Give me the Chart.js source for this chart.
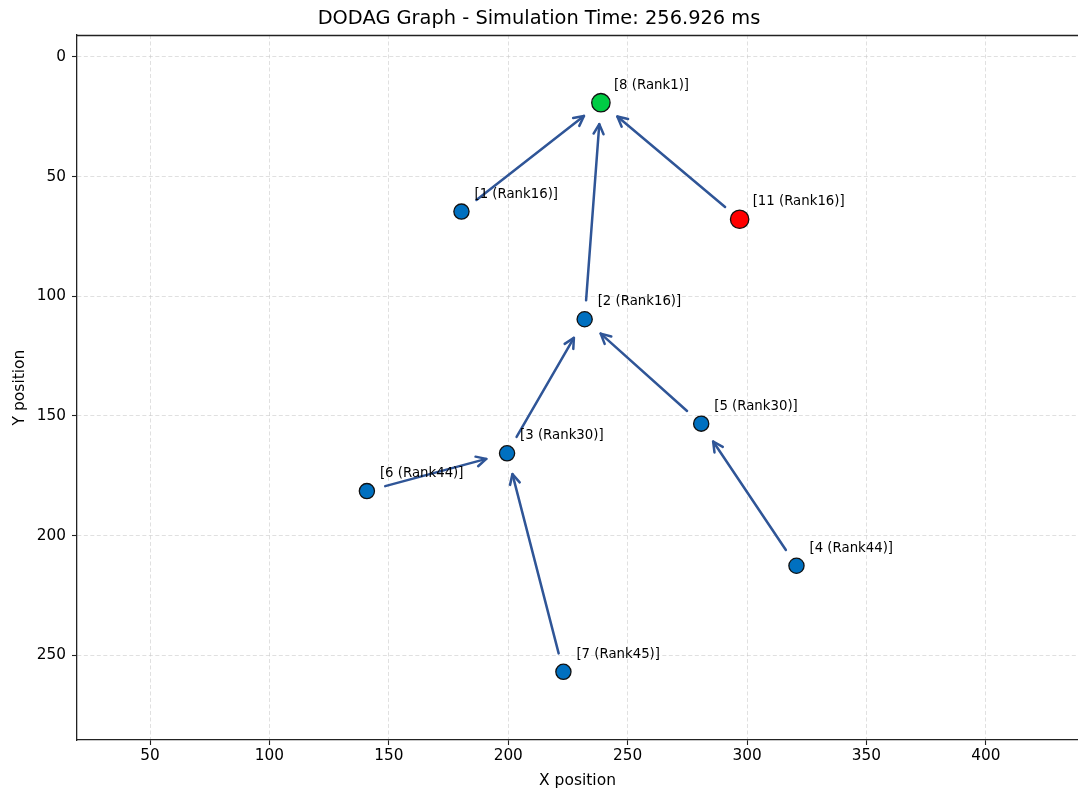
<!DOCTYPE html>
<html>
<head>
<meta charset="utf-8">
<title>DODAG Graph</title>
<script src="https://cdn.jsdelivr.net/npm/chart.js@4.4.1/dist/chart.umd.min.js"></script>
<style>
  html, body { margin: 0; padding: 0; background: #ffffff; }
  #wrap { width: 1078px; height: 794px; }
</style>
</head>
<body>
<div id="wrap"><canvas id="dodag" width="1078" height="794"></canvas></div>
<script>
// Node table: id, position, rank and preferred parent (null = DODAG root)
const nodeIds   = [8, 1, 11, 2, 5, 3, 6, 4, 7];
const nodeX     = [238.8, 180.4, 296.9, 232.0, 280.8, 199.5, 140.8, 320.7, 223.1];
const nodeY     = [19.1, 64.6, 67.8, 109.6, 153.2, 165.6, 181.4, 212.6, 256.9];
const nodeRank  = [1, 16, 16, 16, 30, 30, 44, 44, 45];
const nodeParent = [null, 8, 8, 8, 2, 2, 3, 5, 3];

// Highlighted nodes
const rootId = 8;
const markedId = 11;

// Axis ticks
const xTicks = [50, 100, 150, 200, 250, 300, 350, 400];
const yTicks = [0, 50, 100, 150, 200, 250];

const simTime = 256.926;

const FONT = "'DejaVu Sans', 'Liberation Sans', sans-serif";
const EDGE_COLOR = '#2f5597';

function fillFor(id) {
  if (id === rootId) return '#00cc44';
  if (id === markedId) return '#ff0000';
  return '#0070c0';
}
function radiusFor(id) {
  return (id === rootId || id === markedId) ? 9.2 : 7.6;
}

const points = nodeIds.map((id, i) => ({ x: nodeX[i], y: nodeY[i], id: id, rank: nodeRank[i] }));

// Parent links, arrows drawn beneath the nodes
const edgePlugin = {
  id: 'dodagEdges',
  beforeDatasetsDraw(chart) {
    const ctx = chart.ctx;
    const xs = chart.scales.x, ys = chart.scales.y;
    const area = chart.chartArea;
    ctx.save();
    ctx.beginPath();
    ctx.rect(area.left, area.top, area.right - area.left, area.bottom - area.top);
    ctx.clip();
    ctx.strokeStyle = EDGE_COLOR;
    ctx.lineWidth = 2.5;
    ctx.lineCap = 'round';
    ctx.lineJoin = 'round';
    nodeIds.forEach((id, i) => {
      const p = nodeParent[i];
      if (p === null) return;
      const j = nodeIds.indexOf(p);
      const x0 = xs.getPixelForValue(nodeX[i]), y0 = ys.getPixelForValue(nodeY[i]);
      const x1 = xs.getPixelForValue(nodeX[j]), y1 = ys.getPixelForValue(nodeY[j]);
      const dx = x1 - x0, dy = y1 - y0;
      const len = Math.hypot(dx, dy);
      const ux = dx / len, uy = dy / len;
      const sA = 19, sB = 21.5;
      const ax = x0 + ux * sA, ay = y0 + uy * sA;
      const bx = x1 - ux * sB, by = y1 - uy * sB;
      ctx.beginPath();
      ctx.moveTo(ax, ay);
      ctx.lineTo(bx, by);
      ctx.stroke();
      const hl = 11, ang = Math.atan2(uy, ux), spread = 0.47;
      ctx.beginPath();
      ctx.moveTo(bx - hl * Math.cos(ang - spread), by - hl * Math.sin(ang - spread));
      ctx.lineTo(bx, by);
      ctx.lineTo(bx - hl * Math.cos(ang + spread), by - hl * Math.sin(ang + spread));
      ctx.stroke();
    });
    ctx.restore();
  },
  afterDatasetsDraw(chart) {
    const ctx = chart.ctx;
    const xs = chart.scales.x, ys = chart.scales.y;
    const area = chart.chartArea;
    ctx.save();
    // node labels
    ctx.fillStyle = '#000000';
    ctx.font = '13.3px ' + FONT;
    ctx.textAlign = 'left';
    ctx.textBaseline = 'middle';
    nodeIds.forEach((id, i) => {
      const px = xs.getPixelForValue(nodeX[i]);
      const py = ys.getPixelForValue(nodeY[i]);
      ctx.fillText('[' + id + ' (Rank' + nodeRank[i] + ')]', px + 13, py - 17.5);
    });
    // top frame line
    ctx.strokeStyle = '#222222';
    ctx.lineWidth = 1.3;
    ctx.beginPath();
    ctx.moveTo(area.left, area.top + 0.5);
    ctx.lineTo(area.right, area.top + 0.5);
    ctx.stroke();
    ctx.restore();
  }
};

const gridCommon = {
  color: 'rgba(200,200,200,0.7)',
  lineWidth: 0.8,
  tickLength: 5,
  tickColor: '#222222',
  tickWidth: 1.1,
  tickBorderDash: [],
  drawOnChartArea: true
};

new Chart(document.getElementById('dodag'), {
  type: 'scatter',
  data: {
    datasets: [{
      data: points,
      pointRadius: points.map(p => radiusFor(p.id)),
      pointHoverRadius: points.map(p => radiusFor(p.id)),
      pointBackgroundColor: points.map(p => fillFor(p.id)),
      pointBorderColor: '#111111',
      pointBorderWidth: 1.3,
      showLine: false
    }]
  },
  options: {
    responsive: false,
    devicePixelRatio: 1,
    animation: false,
    layout: { autoPadding: false, padding: { left: 0, right: 0, top: 0, bottom: 0 } },
    plugins: {
      legend: { display: false },
      tooltip: { enabled: false },
      title: {
        display: true,
        text: 'DODAG Graph - Simulation Time: ' + simTime + ' ms',
        color: '#000000',
        font: { family: FONT, size: 19.4, weight: 'normal', lineHeight: 1.2 },
        padding: { top: 7.5, bottom: 4.2 }
      }
    },
    scales: {
      x: {
        type: 'linear',
        min: 19.4,
        max: 438.6,
        afterBuildTicks(scale) { scale.ticks = xTicks.map(v => ({ value: v })); },
        afterFit(scale) { scale.height = 54; scale.paddingLeft = 0; scale.paddingRight = 0; },
        ticks: {
          includeBounds: false,
          color: '#000000',
          font: { family: FONT, size: 15.3 },
          padding: 2,
          maxRotation: 0,
          autoSkip: false
        },
        grid: gridCommon,
        border: { display: true, color: '#222222', width: 1.3, dash: [4, 2.5] },
        title: {
          display: true,
          text: 'X position',
          color: '#000000',
          font: { family: FONT, size: 15.5 },
          padding: { top: 0, bottom: 4 }
        }
      },
      y: {
        type: 'linear',
        reverse: true,
        min: -9.2,
        max: 285.4,
        afterBuildTicks(scale) { scale.ticks = yTicks.map(v => ({ value: v })); },
        afterFit(scale) { scale.width = 77; scale.paddingTop = 0; scale.paddingBottom = 0; },
        ticks: {
          includeBounds: false,
          color: '#000000',
          font: { family: FONT, size: 15.3 },
          padding: 6,
          autoSkip: false
        },
        grid: gridCommon,
        border: { display: true, color: '#222222', width: 1.3, dash: [4, 2.5] },
        title: {
          display: true,
          text: 'Y position',
          color: '#000000',
          font: { family: FONT, size: 15.5 },
          padding: { top: 11, bottom: 0 }
        }
      }
    }
  },
  plugins: [edgePlugin]
});
</script>
</body>
</html>
